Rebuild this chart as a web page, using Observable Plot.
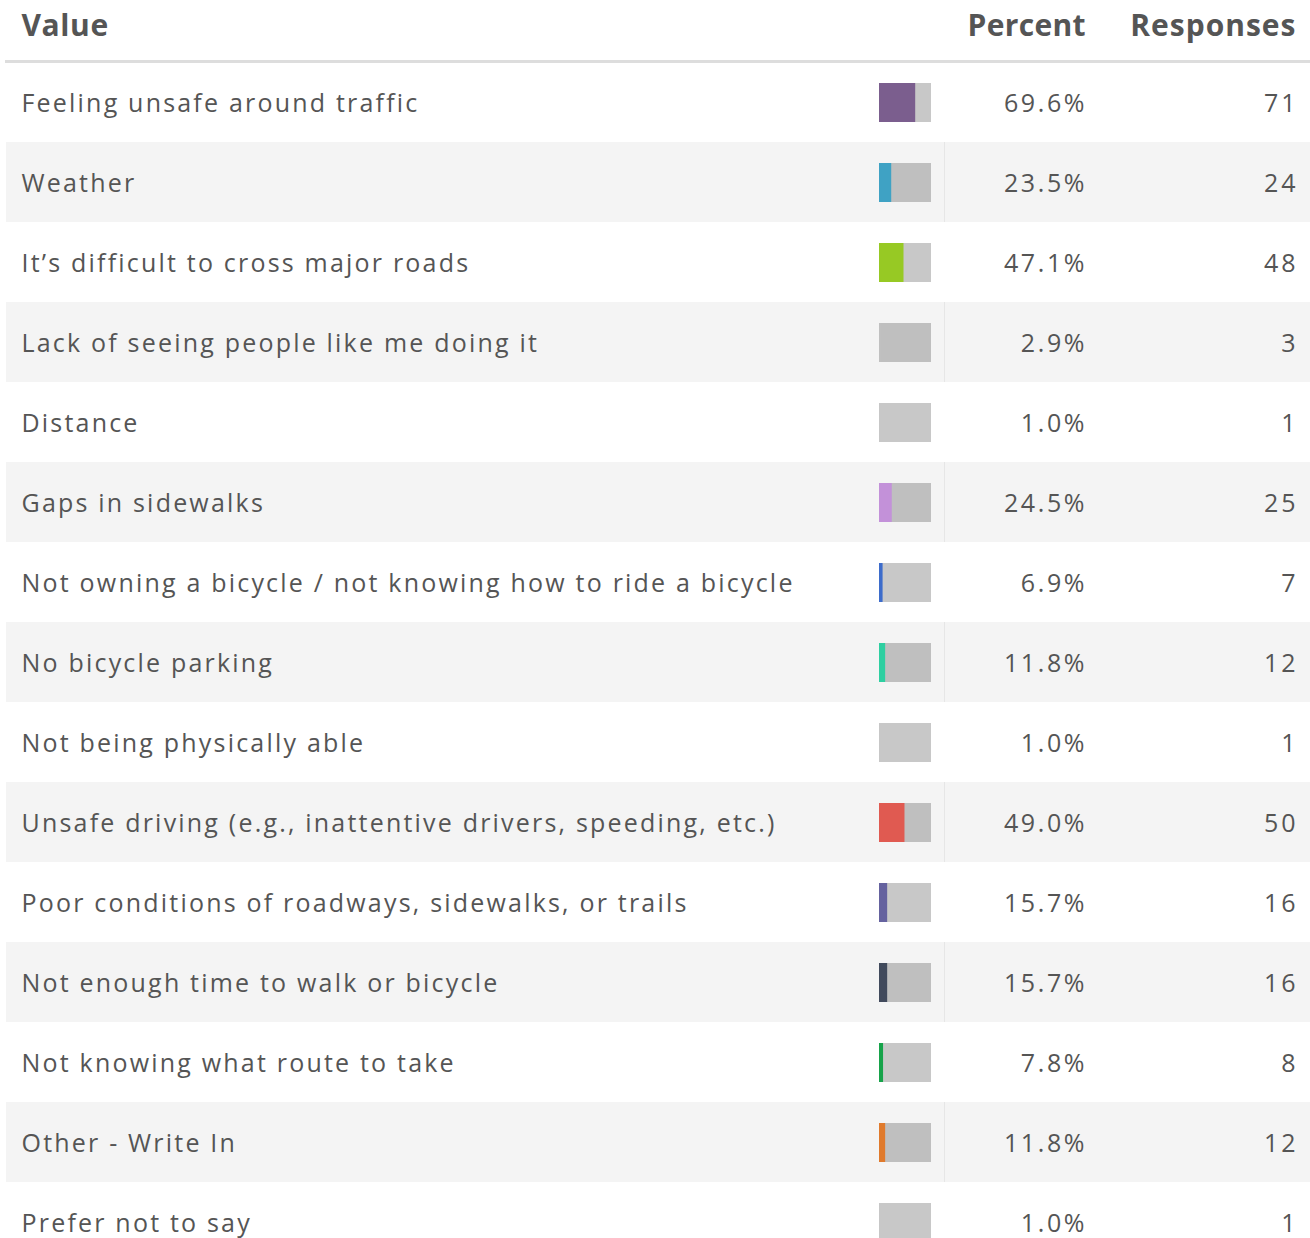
<!DOCTYPE html>
<html>
<head>
<meta charset="utf-8">
<script src="https://cdn.jsdelivr.net/npm/d3@7"></script>
<script src="https://cdn.jsdelivr.net/npm/@observablehq/plot@0.6"></script>
<style>
  html, body { margin: 0; padding: 0; background: #fff; overflow: hidden; }
  #chart svg { display: block; }
</style>
</head>
<body>
<div id="chart"></div>
<script>
const headers = ["Value", "Percent", "Responses"];
const labels = [
  "Feeling unsafe around traffic",
  "Weather",
  "It’s difficult to cross major roads",
  "Lack of seeing people like me doing it",
  "Distance",
  "Gaps in sidewalks",
  "Not owning a bicycle / not knowing how to ride a bicycle",
  "No bicycle parking",
  "Not being physically able",
  "Unsafe driving (e.g., inattentive drivers, speeding, etc.)",
  "Poor conditions of roadways, sidewalks, or trails",
  "Not enough time to walk or bicycle",
  "Not knowing what route to take",
  "Other - Write In",
  "Prefer not to say"
];
const percents = [69.6, 23.5, 47.1, 2.9, 1.0, 24.5, 6.9, 11.8, 1.0, 49.0, 15.7, 15.7, 7.8, 11.8, 1.0];
const responses = [71, 24, 48, 3, 1, 25, 7, 12, 1, 50, 16, 16, 8, 12, 1];
const colors = ["#7b5e8e", "#3fa2c4", "#97c924", "#c0c0c0", "#c8c8c8", "#c391d9", "#3d6ccb", "#2ecfa1", "#c8c8c8", "#e05a51", "#65629f", "#414a5c", "#17a34a", "#e07a2c", "#c8c8c8"];

const rows = labels.map((label, i) => ({
  label, percent: percents[i], responses: responses[i], color: colors[i], i
}));
const shaded = rows.filter(d => d.i % 2 === 1);

const FONT = "'Open Sans', Lato, sans-serif";
const textColor = "#555";

const chart = Plot.plot({
  width: 1310,
  height: 1238,
  marginLeft: 6,
  marginRight: 0,
  marginTop: 61,
  marginBottom: 0,
  x: {domain: [0, 100], range: [879, 931], axis: null},
  y: {domain: labels, range: [62, 1262], padding: 0, axis: null},
  color: {type: "identity"},
  style: {fontFamily: FONT, background: "#fff", overflow: "hidden"},
  marks: [
    Plot.cell(shaded, {y: "label", fill: "#f4f4f4"}),
    Plot.tickX(shaded, {x: 100, y: "label", dx: 13, stroke: "#e6e6e6", strokeWidth: 1}),
    Plot.frame({anchor: "top", stroke: "#dddddd", strokeWidth: 3}),
    Plot.barX(rows, {x1: 0, x2: 100, y: "label", fill: "#000", fillOpacity: 0.216, insetTop: 21, insetBottom: 20}),
    Plot.barX(rows, {x1: 0, x2: "percent", y: "label", fill: "color", insetTop: 21, insetBottom: 20}),
    Plot.text(rows, {y: "label", text: "label", frameAnchor: "left", dx: 15, dy: 1, textAnchor: "start", fontSize: 25, fill: textColor}),
    Plot.text(rows, {y: "label", text: d => d.percent.toFixed(1) + "%", frameAnchor: "right", dx: -226, dy: 1, textAnchor: "end", fontSize: 25, fill: textColor}),
    Plot.text(rows, {y: "label", text: d => String(d.responses), frameAnchor: "right", dx: -15, dy: 1, textAnchor: "end", fontSize: 25, fill: textColor}),
    Plot.text([headers[0]], {text: d => d, frameAnchor: "top-left", lineAnchor: "middle", dx: 15, dy: -35, textAnchor: "start", fontSize: 30, fontWeight: "bold", fill: textColor}),
    Plot.text([headers[1]], {text: d => d, frameAnchor: "top-right", lineAnchor: "middle", dx: -225, dy: -35, textAnchor: "end", fontSize: 30, fontWeight: "bold", fill: textColor}),
    Plot.text([headers[2]], {text: d => d, frameAnchor: "top-right", lineAnchor: "middle", dx: -15, dy: -35, textAnchor: "end", fontSize: 30, fontWeight: "bold", fill: textColor})
  ]
});

// letter spacing per text layer (labels, percents, responses, headers)
const spacing = ["2.2px", "2.6px", "3px", "0.6px", "0.3px", "1px"];
const trailing = [0, 2.6, 3, 0, 0.3, 1];
chart.querySelectorAll('g[aria-label="text"]').forEach((g, k) => {
  g.style.letterSpacing = spacing[k];
  if (trailing[k]) {
    g.querySelectorAll("text").forEach(t => {
      const tr = t.getAttribute("transform") || "";
      t.setAttribute("transform", tr + ` translate(${trailing[k]},0)`);
    });
  }
});
document.getElementById("chart").appendChild(chart);
</script>
</body>
</html>
